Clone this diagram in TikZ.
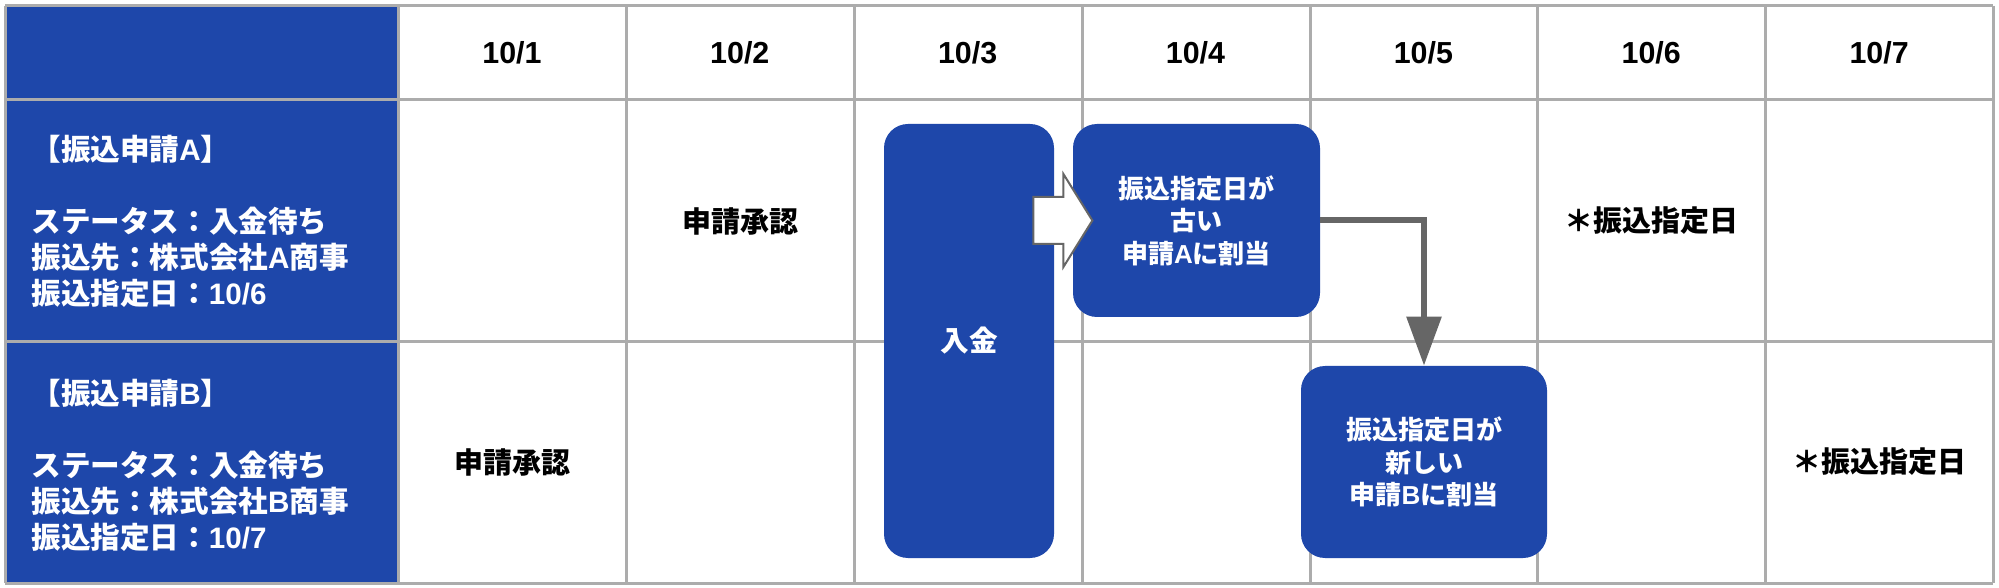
\documentclass[tikz,border=0pt]{standalone}
\usepackage{fontspec}
\setmainfont{Liberation Sans}
\newfontfamily\cjk{Noto Sans CJK JP}
\newfontfamily\latn{Liberation Sans}
\newcommand{\la}[1]{{\latn\bfseries #1}}
\usetikzlibrary{arrows.meta,calc}
\definecolor{bluebox}{RGB}{30,71,170}
\definecolor{gridgray}{RGB}{172,172,172}
\definecolor{arrowgray}{RGB}{102,102,102}
\tikzset{
  gridline/.style={draw=gridgray, line width=1.5pt},
  hdr/.style={font=\latn\bfseries\fontsize{15.2pt}{18pt}\selectfont, text=black, inner sep=0pt},
  lefttxt/.style={font=\cjk\bfseries\fontsize{14.8pt}{18pt}\selectfont, text=white, align=left, inner sep=0pt, anchor=west},
  celltxt/.style={font=\cjk\bfseries\fontsize{14.5pt}{17pt}\selectfont, text=black, inner sep=0pt},
  bluenode/.style={fill=bluebox, rounded corners=12pt, text=white, align=center, inner sep=0pt,
    font=\cjk\bfseries\fontsize{13pt}{16.25pt}\selectfont},
  blockarrow/.style={draw=arrowgray, fill=white, line width=1pt, line join=miter},
  connector/.style={draw=arrowgray, line width=3pt, -{Triangle[length=24.5pt,width=17pt]}},
}
\begin{document}
\begin{tikzpicture}[x=0.5pt,y=-0.5pt]
\useasboundingbox (0,0) rectangle (1999,588);
\fill[white] (0,0) rectangle (1999,588);
% left column background
\fill[bluebox] (5,6) rectangle (398,583);
% grid
\foreach \x in {5,398,626,854,1082,1310,1537,1765,1993}
  \draw[gridline] (\x,6) -- (\x,583);
\foreach \y in {6,100,342,583}
  \draw[gridline] (5,\y) -- (1993,\y);
% header dates
\foreach \d in {1,...,7}
  \node[hdr] (d\d) at ({398+(\d-0.5)*227.86},53) {10/\d};
% left column texts
\node[lefttxt] (infoA) at (31,221.5) {【振込申請\la{A}】\\[18pt]ステータス：入金待ち\\振込先：株式会社\la{A}商事\\振込指定日：\la{10/6}};
\node[lefttxt] (infoB) at (31,465) {【振込申請\la{B}】\\[18pt]ステータス：入金待ち\\振込先：株式会社\la{B}商事\\振込指定日：\la{10/7}};
% cell texts
\node[celltxt] (apprA) at (740,221) {申請承認};
\node[celltxt] (apprB) at (512,462) {申請承認};
\node[celltxt] (dueA) at (1651,221) {＊振込指定日};
\node[celltxt] (dueB) at (1879,462) {＊振込指定日};
% boxes
\node[bluenode, minimum width=85pt, minimum height=217pt,
  font=\cjk\bfseries\fontsize{14.3pt}{17pt}\selectfont] (nyukin) at (969,341) {入金};
\node[bluenode, minimum width=123.5pt, minimum height=96.5pt] (boxA) at (1196.5,220.5)
  {振込指定日が\\古い\\申請\la{A}に割当};
\node[bluenode, minimum width=123pt, minimum height=96pt] (boxB) at (1424,462)
  {振込指定日が\\新しい\\申請\la{B}に割当};
% block arrow from nyukin to boxA
\coordinate (T) at ($(nyukin.east |- boxA.west)+(-21,0)$);
\draw[blockarrow] ($(T)+(0,-23.5)$) -- ($(T)+(30,-23.5)$) -- ($(T)+(30,-46.5)$)
  -- ($(T)+(59,0)$) -- ($(T)+(30,46.5)$) -- ($(T)+(30,23.5)$) -- ($(T)+(0,23.5)$) -- cycle;
% elbow connector
\draw[connector] (boxA.east) -| (boxB.north);
\end{tikzpicture}
\end{document}
